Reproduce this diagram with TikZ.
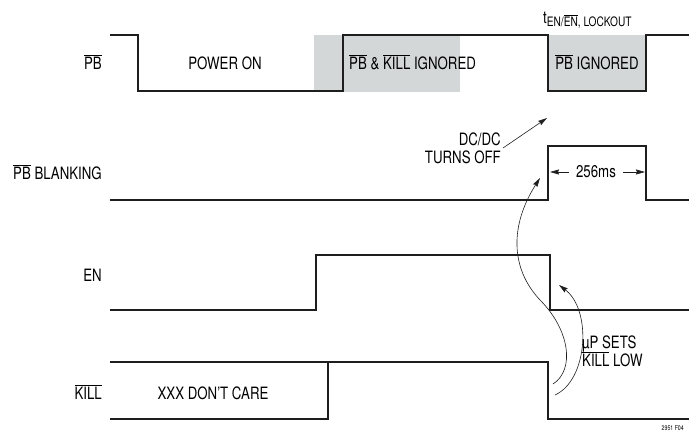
\documentclass[tikz,border=0pt]{standalone}
\usepackage{fontspec}
\setmainfont{TeX Gyre Heros}[FakeStretch=0.78]
\usepackage{tikz}
\usetikzlibrary{arrows.meta,positioning,calc}
\definecolor{sigInk}{RGB}{30,30,30}
\definecolor{ignGray}{RGB}{212,215,215}
\newcommand{\ovl}[1]{$\overline{\mbox{#1}}$}

\begin{document}
\begin{tikzpicture}[x=1pt, y=-1pt,
    font=\fontsize{17}{20}\selectfont,
    signal/.style={line width=2pt, sigInk, line join=miter},
    note/.style={inner sep=2pt, align=left},
    rowlabel/.style={anchor=base east, inner sep=0pt},
    pointer/.style={-{Stealth[length=9pt, width=5pt, inset=1pt]}, semithick, sigInk}]
    \useasboundingbox (0,0) rectangle (689,434);
    % ignored windows (grey)
    \fill[ignGray] (314,35) rectangle (460,92);
    \fill[ignGray] (548,35) rectangle (646,91);
    % row labels
    \node[rowlabel] (lpb)    at (102,69)  {\ovl{PB}};
    \node[rowlabel] (lblank) at (102,179) {\ovl{PB} BLANKING};
    \node[rowlabel] (len)    at (102,281) {EN};
    \node[rowlabel] (lkill)  at (102,399) {\ovl{KILL}};
    % PB
    \draw[signal] (110,35) -- (138,35) -- (138,91) -- (343,91) -- (343,35)
      -- (548,35) -- (548,91) -- (646,91) -- (646,35) -- (689,35);
    % PB blanking
    \draw[signal] (110,200) -- (548,200) -- (548,146) -- (646,146) -- (646,200) -- (689,200);
    % EN
    \draw[signal] (110,310) -- (316,310) -- (316,255) -- (550,255) -- (550,310) -- (689,310);
    % KILL, don't care until the uP drives it
    \draw[signal] (110,362) -- (548,362) -- (548,419) -- (689,419);
    \draw[signal] (110,419) -- (328,419) -- (328,362);
    % texts on the traces
    \node[anchor=base] (pwron) at (225,69) {POWER ON};
    \node[anchor=base west, inner sep=0pt] (ignboth) at (349,69) {\ovl{PB} \& \ovl{KILL} IGNORED};
    \node[anchor=base] (ignpb) at (597,69) {\ovl{PB} IGNORED};
    \node[anchor=base] (dontcare) at (213,399) {XXX DON'T CARE};
    \node[anchor=base west, inner sep=0pt] (tlock) at (543,23)
      {t\raisebox{-3pt}{\fontsize{13}{15}\selectfont EN/\ovl{EN}, LOCKOUT}};
    % DC/DC turns off
    \node[note, align=right, anchor=east] (dcdc) at (503,148) {DC/DC\\[-2pt]TURNS OFF};
    \coordinate (dcdctip) at (547,118);
    \draw[pointer] (dcdc.east) -- (dcdctip);
    % 256ms blanking time
    \node[inner sep=7pt] (blank) at (596,172) {256ms};
    \coordinate (blankL) at (550,172);
    \coordinate (blankR) at (645,172);
    \draw[pointer] (blank.west) -- (blankL);
    \draw[pointer] (blank.east) -- (blankR);
    % uP sets KILL low
    \node[note, anchor=west] (upsets) at (580,351) {µP SETS\\[-2pt]\ovl{KILL} LOW};
    \coordinate (killA) at (553,384);
    \coordinate (killB) at (555,395);
    \coordinate (blanktip) at (540,178);
    \coordinate (entip) at (559,285);
    \draw[pointer, line width=0.6pt] (killA) .. controls (575,370) and (570,330) .. (540,300)
      .. controls (510,268) and (510,225) .. (blanktip);
    \draw[pointer, line width=0.6pt] (killB) .. controls (588,380) and (592,310) .. (entip);
    \node[anchor=east, inner sep=0pt, font=\fontsize{6.7}{8}\selectfont] (figno) at (684,428) {2951 F04};
\end{tikzpicture}
\end{document}
